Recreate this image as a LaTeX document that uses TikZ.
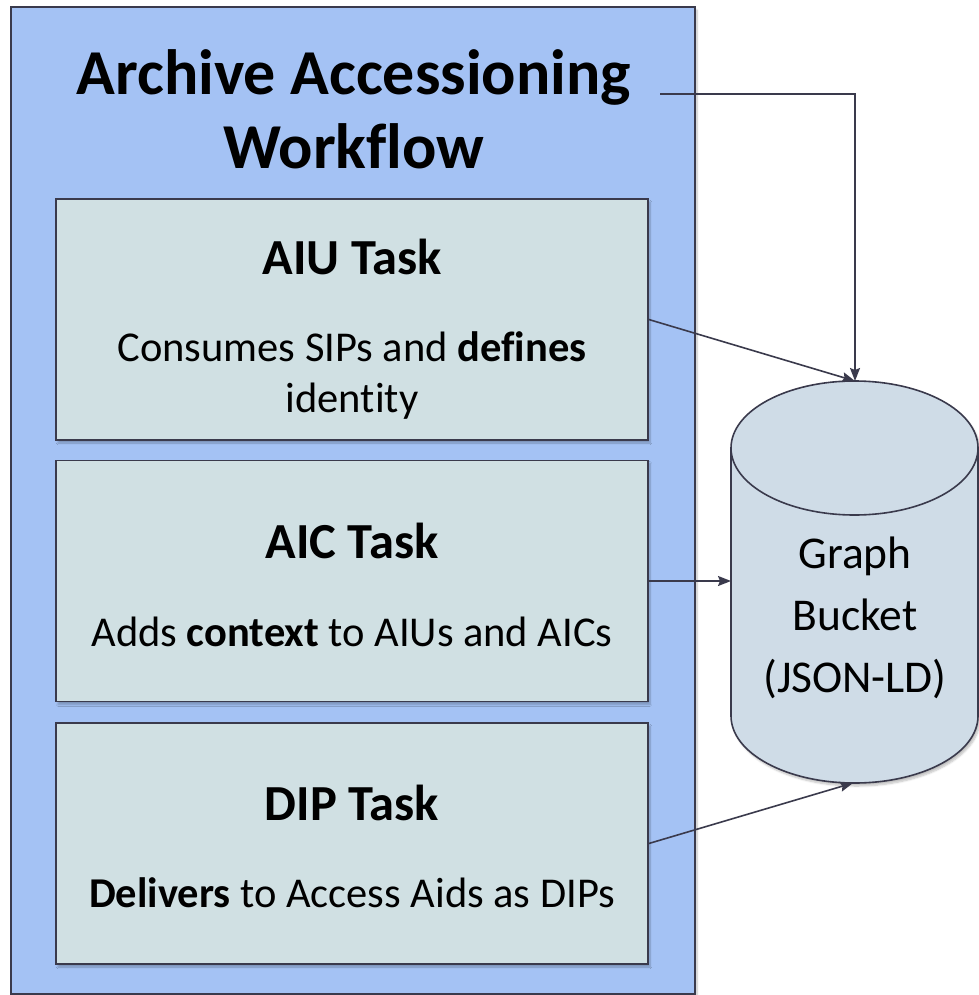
\documentclass[tikz,border=0pt]{standalone}
\usepackage{fontspec}
\setmainfont{Carlito}[Ligatures=NoCommon]
\usetikzlibrary{arrows.meta,shadows.blur}

\definecolor{wfblue}{HTML}{A4C2F4}
\definecolor{taskfill}{HTML}{D0E0E3}
\definecolor{cylfill}{HTML}{CFDCE7}
\definecolor{edge}{HTML}{3A3A4C}

\tikzset{
  softshadow/.style={blur shadow={shadow xshift=2pt, shadow yshift=-3pt, shadow blur steps=6, shadow opacity=25}},
  panel/.style={draw=edge, line width=1.6pt, fill=wfblue, rectangle, inner sep=0pt, softshadow},
  taskbox/.style={draw=edge, line width=1.6pt, fill=taskfill, rectangle, inner sep=0pt,
    minimum width=592pt, minimum height=241pt, softshadow},
  heading/.style={font=\fontsize{64}{70}\selectfont\bfseries, anchor=base, inner sep=0pt},
  tasktitle/.style={font=\fontsize{50.5}{55}\selectfont\bfseries, anchor=base, inner sep=0pt},
  tasktext/.style={font=\fontsize{42.5}{48}\selectfont, anchor=base, inner sep=0pt},
  cyltext/.style={font=\fontsize{45.5}{50}\selectfont, anchor=base, inner sep=0pt},
  link/.style={draw=edge, line width=1.6pt, -{Stealth[length=13pt, width=10pt, inset=2pt]}},
}

\begin{document}
\begin{tikzpicture}[x=1pt, y=-1pt]
  \useasboundingbox (0,0) rectangle (978,995);

  % workflow panel
  \node[panel, minimum width=684pt, minimum height=987pt] (wf) at (353,500.5) {};
  \node[heading] (t1) at (354,95) {Archive Accessioning};
  \node[heading] (t2) at (354,169) {Workflow};

  % tasks
  \node[taskbox] (aiu) at (352,319.5) {};
  \node[tasktitle] (aiut) at (352,274) {AIU Task};
  \node[tasktext] (aiux1) at (352,361) {Consumes SIPs and \textbf{defines}};
  \node[tasktext] (aiux2) at (352,412) {identity};

  \node[taskbox] (aic) at (352,581) {};
  \node[tasktitle] (aict) at (352,558) {AIC Task};
  \node[tasktext] (aicx) at (352,646) {Adds \textbf{context} to AIUs and AICs};

  \node[taskbox] (dip) at (352,843.5) {};
  \node[tasktitle] (dipt) at (352,820) {DIP Task};
  \node[tasktext] (dipx) at (352,907) {\textbf{Delivers} to Access Aids as DIPs};

  % graph bucket cylinder (y axis points down, so +90 degrees is below the centre)
  \path[draw=edge, line width=1.6pt, fill=cylfill, softshadow]
    (731,448) -- (731,716)
    arc[start angle=180, end angle=0, x radius=123.5, y radius=67]
    -- (978,448)
    arc[start angle=0, end angle=-180, x radius=123.5, y radius=67] -- cycle;
  \draw[edge, line width=1.6pt] (731,448)
    arc[start angle=180, end angle=0, x radius=123.5, y radius=67];
  \node[cyltext] (g1) at (855,568) {Graph};
  \node[cyltext] (g2) at (855,630) {Bucket};
  \node[cyltext] (g3) at (855,692) {(JSON-LD)};

  \coordinate (cyltop) at (855,381);
  \coordinate (cylleft) at (731,581);
  \coordinate (cylbot) at (853,783);
  \coordinate (wfout) at (660,94);

  % connectors
  \draw[link] (wfout) -| (cyltop);
  \draw[link] (aiu.east) -- (cyltop);
  \draw[link] (aic.east) -- (cylleft);
  \draw[link] (dip.east) -- (cylbot);
\end{tikzpicture}
\end{document}
